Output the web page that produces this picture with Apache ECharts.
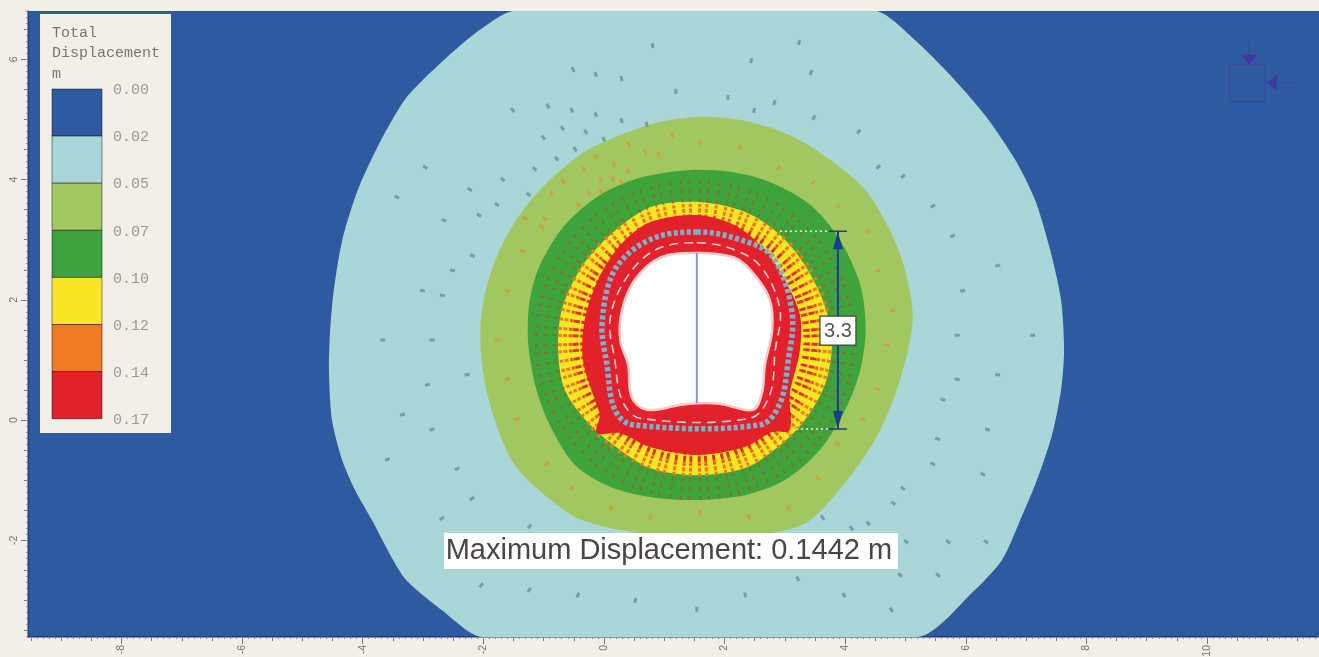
<!DOCTYPE html>
<html>
<head>
<meta charset="utf-8">
<script src="https://cdn.jsdelivr.net/npm/echarts@6/dist/echarts.min.js"></script>
<style>
html,body{margin:0;padding:0;background:#f2efe6;overflow:hidden}
#chart{width:1319px;height:657px;filter:blur(0.75px)}
</style>
</head>
<body>
<div id="chart"></div>
<script>
// ---- Legend ----
const legendTitle = ['Total', 'Displacement', 'm'];
const legendValues = ['0.00', '0.02', '0.05', '0.07', '0.10', '0.12', '0.14', '0.17'];
const legendColors = ['#2f5a9f', '#a9d6d6', '#a3c760', '#3fa33c', '#f8e523', '#ee7a22', '#e2212c'];

// ---- Axes ----
const xTickLabels = [-8, -6, -4, -2, 0, 2, 4, 6, 8, 10];
const yTickLabels = [-2, 0, 2, 4, 6];

// ---- Displacement contour boundaries (x, y in metres) ----
const contour002 = [[-1.48,6.81],[-2.06,6.49],[-2.60,6.04],[-3.27,5.37],[-3.71,4.63],[-4.08,3.83],[-4.34,2.99],[-4.48,2.16],[-4.54,1.50],[-4.56,0.83],[-4.51,0],[-4.34,-0.67],[-4.13,-1.16],[-3.85,-1.66],[-3.32,-2.61],[-2.69,-3.16],[-2.02,-3.61],[5.21,-3.61],[6.15,-2.83],[6.60,-2.33],[6.88,-1.72],[7.18,-1.00],[7.43,-0.25],[7.58,0.50],[7.63,1.16],[7.58,2.00],[7.40,2.83],[7.15,3.66],[6.82,4.33],[6.32,5.07],[5.74,5.74],[5.16,6.32],[4.49,6.81]];
const contour005 = [[1.67,5.04],[2.42,4.96],[3.08,4.74],[3.75,4.33],[4.33,3.83],[4.74,3.16],[4.99,2.50],[5.12,1.66],[4.91,0.67],[4.58,-0.17],[4.16,-0.83],[3.43,-1.66],[2.89,-1.86],[1.59,-2.00],[0.45,-1.86],[-0.38,-1.66],[-0.98,-1.25],[-1.48,-0.75],[-1.81,0],[-2.01,0.83],[-2.04,1.66],[-1.89,2.41],[-1.56,3.16],[-1.06,3.83],[-0.40,4.41],[0.27,4.74],[0.93,4.96]];
const contour007 = [[1.43,4.16],[2.09,4.13],[2.75,3.96],[3.42,3.58],[3.91,3.00],[4.25,2.25],[4.34,1.50],[4.25,0.83],[4.00,0.17],[3.58,-0.50],[3.00,-1.00],[2.34,-1.25],[1.51,-1.33],[0.76,-1.28],[0.10,-1.11],[-0.48,-0.75],[-0.90,-0.08],[-1.14,0.58],[-1.26,1.33],[-1.23,2.00],[-1.06,2.58],[-0.65,3.24],[-0.07,3.74],[0.60,4.03]];
const contour010 = [[1.54,3.63],[2.34,3.46],[2.92,3.08],[3.33,2.58],[3.66,1.91],[3.78,1.25],[3.66,0.58],[3.33,0],[2.92,-0.42],[2.34,-0.80],[1.51,-0.92],[0.76,-0.80],[0.27,-0.50],[-0.23,-0.08],[-0.65,0.50],[-0.76,1.16],[-0.70,1.83],[-0.40,2.50],[0.05,3.03],[0.76,3.54]];
const contour014 = [[1.54,3.41],[2.17,3.24],[2.67,2.83],[3.00,2.33],[3.25,1.75],[3.25,1.16],[3.08,0.42],[3.08,-0.17],[2.79,-0.20],[2.34,-0.45],[1.54,-0.58],[0.76,-0.45],[0.27,-0.22],[-0.12,-0.22],[-0.07,0.08],[-0.15,0.33],[-0.35,1.00],[-0.32,1.66],[-0.10,2.33],[0.27,2.91],[0.76,3.29]];
const tunnelOpening = [[1.54,2.78],[2.17,2.70],[2.50,2.41],[2.75,2.00],[2.79,1.50],[2.67,0.92],[2.62,0.45],[2.47,0.17],[1.92,0.27],[1.54,0.28],[1.26,0.25],[0.71,0.17],[0.46,0.38],[0.40,0.92],[0.27,1.33],[0.30,1.83],[0.51,2.33],[0.93,2.70]];
const tunnelLiner = [[1.54,3.13],[2.26,3.00],[2.80,2.71],[3.12,1.78],[3.05,0.95],[2.92,0.28],[2.59,-0.08],[0.48,-0.08],[0.18,0.17],[0.05,0.92],[-0.03,1.61],[0.18,2.50],[0.76,3.00]];
const yieldedBolts = [[1.54,2.95],[2.17,2.83],[2.62,2.53],[2.92,1.83],[2.84,1.16],[2.75,0.42],[2.42,0.03],[0.60,0.03],[0.30,0.33],[0.18,1.00],[0.10,1.66],[0.35,2.33],[0.85,2.83]];

// ---- Displacement vectors read from the field (x, y) ----
const outerVectors = [[0.80,6.27],[-0.53,5.87],[-0.15,5.79],[0.28,5.72],[1.19,5.51],[-0.95,5.26],[-1.54,5.19],[-0.55,5.19],[-0.15,5.12],[0.28,5.02],[0.70,4.96],[-0.71,4.89],[-0.32,4.83],[-1.03,4.73],[-0.02,4.71],[-0.50,4.54],[-0.81,4.38],[-1.18,4.21],[-3.00,4.23],[-1.71,4.03],[-3.47,3.73],[-2.26,3.86],[-1.81,3.61],[-2.11,3.43],[-2.69,3.34],[-1.28,3.78],[2.45,6.02],[3.25,6.32],[2.06,5.41],[2.84,5.32],[3.45,5.82],[2.50,5.19],[3.50,5.07],[4.25,4.83],[4.99,4.08],[5.49,3.58],[4.58,4.24],[5.82,3.08],[6.57,2.58],[5.99,2.16],[7.15,1.41],[5.90,1.41],[6.57,0.75],[5.90,0.67],[5.66,0.33],[6.40,-0.17],[5.57,-0.33],[5.49,-0.75],[4.99,-1.16],[4.83,-1.41],[4.41,-1.75],[6.32,-0.92],[-1.26,-1.80],[-2.06,-2.78],[-1.26,-2.86],[-0.45,-2.95],[0.51,-3.04],[3.23,-2.68],[2.35,-2.95],[1.54,-3.19],[4.00,-2.95],[4.79,-3.19],[4.94,-2.61],[5.57,-2.61],[6.37,-2.05],[5.74,-2.05],[5.04,-2.05],[4.13,-1.83],[3.65,-1.66],[-3.05,2.16],[-2.72,2.08],[-3.71,1.33],[-2.89,1.33],[-2.97,0.58],[-3.38,0.08],[-2.89,-0.17],[-3.63,-0.67],[-2.31,0.75],[-2.22,2.75],[-2.55,2.50],[-2.47,-0.83],[-2.22,-1.33],[-2.72,-1.66]];
const midVectors = [[1.13,4.78],[0.40,4.63],[0.68,4.49],[0.90,4.46],[-0.15,4.41],[0.15,4.29],[-0.36,4.21],[0.38,4.19],[-0.07,4.04],[-0.70,4.01],[0.13,4.04],[0.27,3.99],[-0.27,3.81],[-0.07,3.84],[-0.90,3.79],[-0.45,3.61],[-1.34,3.38],[-1.01,3.38],[1.59,4.66],[2.26,4.58],[2.92,4.24],[3.50,3.99],[3.91,3.58],[4.41,3.16],[4.58,2.50],[4.83,1.83],[4.74,1.25],[4.58,0.50],[4.33,0],[3.91,-0.42],[3.58,-1.00],[3.08,-1.50],[2.42,-1.66],[1.59,-1.58],[0.76,-1.66],[0.10,-1.50],[-0.56,-1.16],[-0.98,-0.75],[-1.48,0],[-1.64,0.67],[-1.81,1.33],[-1.64,2.16],[-1.39,2.83],[-1.06,3.24]];
const denseVectorAngles = [2,5,9,13,16,20,23,27,31,34,38,41,45,49,52,56,59,63,67,70,74,77,81,85,88,92,95,99,103,106,110,113,117,121,124,128,131,135,139,142,146,149,153,157,160,164,167,171,175,178,182,185,189,193,196,200,203,207,211,214,218,221,225,229,232,236,239,243,247,250,254,257,261,265,268,272,275,279,283,286,290,293,297,301,304,308,311,315,319,322,326,329,333,337,340,344,347,351,355,358];

// ---- Annotations ----
const measureLine = {x: 3.88, top: 3.14, bottom: -0.15, label: '3.3'};
const centreLine = [[1.54, 2.78], [1.54, 0.28]];
const maxLabel = {text: 'Maximum Displacement: 0.1442 m', x: 1.11, y: -2.18};
const ringCentre = [1.51, 1.33];

const xMin = -9.55, xMax = 11.857, yMin = -3.61, yMax = 6.805;

function range(a, b, step) {
  const out = [];
  const n = Math.round((b - a) / step);
  for (let i = 0; i <= n; i++) out.push(+(a + i * step).toFixed(2));
  return out;
}

const fills = [
  {pts: contour002, fill: legendColors[1], smooth: 0.25},
  {pts: contour005, fill: legendColors[2], smooth: 0.3},
  {pts: contour007, fill: legendColors[3], smooth: 0.3},
  {pts: contour010, fill: legendColors[4], smooth: 0.3},
];

function fillSeries(items, z) {
  return {
    type: 'custom', clip: true, z, silent: true,
    data: items.map((d, i) => [i]),
    renderItem(params, api) {
      const d = items[params.dataIndex];
      return {
        type: 'polygon',
        shape: {points: d.pts.map(p => api.coord(p)), smooth: d.smooth},
        style: {fill: d.fill, stroke: d.stroke || null, lineWidth: d.lineWidth || 0}
      };
    }
  };
}

function vectorSeries(points, color, len, z) {
  return {
    type: 'custom', clip: true, z, silent: true,
    data: points,
    renderItem(params, api) {
      const p = api.coord([api.value(0), api.value(1)]);
      const c = api.coord(ringCentre);
      const dx = p[0] - c[0], dy = p[1] - c[1];
      const r = Math.sqrt(dx * dx + dy * dy) || 1;
      return {
        type: 'line',
        shape: {x1: p[0], y1: p[1], x2: p[0] - dx / r * len, y2: p[1] - dy / r * len},
        style: {stroke: color, lineWidth: 3, opacity: 0.75}
      };
    }
  };
}

function hatchSeries(from, to, color, width, dash, z) {
  return {
    type: 'custom', clip: true, z, silent: true,
    data: denseVectorAngles.map(a => [a]),
    renderItem(params, api) {
      const a = api.value(0) * Math.PI / 180;
      const c = ringCentre;
      const p1 = api.coord([c[0] + from * Math.cos(a), c[1] + from * Math.sin(a)]);
      const p2 = api.coord([c[0] + to * Math.cos(a), c[1] + to * Math.sin(a)]);
      return {
        type: 'line',
        shape: {x1: p1[0], y1: p1[1], x2: p2[0], y2: p2[1]},
        style: {stroke: color, lineWidth: width, lineDash: dash}
      };
    }
  };
}

function ringSeries(pts, color, width, dash, z) {
  return {
    type: 'custom', clip: true, z, silent: true,
    data: [[0]],
    renderItem(params, api) {
      return {
        type: 'polygon',
        shape: {points: pts.map(p => api.coord(p)), smooth: 0.35},
        style: {fill: null, stroke: color, lineWidth: width, lineDash: dash}
      };
    }
  };
}

const annotationSeries = {
  type: 'custom', z: 20, silent: true,
  data: [[0]],
  renderItem(params, api) {
    const t = api.coord([measureLine.x, measureLine.top]);
    const b = api.coord([measureLine.x, measureLine.bottom]);
    const cA = api.coord(centreLine[0]), cB = api.coord(centreLine[1]);
    const lab = api.coord([measureLine.x, 1.48]);
    const mx = api.coord([maxLabel.x, maxLabel.y]);
    const dim = '#173f86';
    const square = [api.coord([10.38, 5.91]), api.coord([10.96, 5.91]), api.coord([10.96, 5.29]), api.coord([10.38, 5.29])];
    const arrowA = api.coord([10.70, 5.91]), arrowATail = api.coord([10.70, 6.37]);
    const arrowB = api.coord([10.96, 5.61]), arrowBTail = api.coord([11.54, 5.61]);
    const pointer = 'rgba(62,52,170,0.4)';
    return {
      type: 'group',
      children: [
        {type: 'line', shape: {x1: cA[0], y1: cA[1], x2: cB[0], y2: cB[1]}, style: {stroke: '#8f94c6', lineWidth: 2}},
        {type: 'line', shape: {x1: t[0] - 58, y1: t[1], x2: t[0] - 8, y2: t[1]}, style: {stroke: '#e9f3d8', lineWidth: 1.5, lineDash: [2, 3]}},
        {type: 'line', shape: {x1: b[0] - 42, y1: b[1], x2: b[0] - 8, y2: b[1]}, style: {stroke: '#e9f3d8', lineWidth: 1.5, lineDash: [2, 3]}},
        {type: 'line', shape: {x1: t[0], y1: t[1], x2: b[0], y2: b[1]}, style: {stroke: dim, lineWidth: 2}},
        {type: 'line', shape: {x1: t[0] - 9, y1: t[1], x2: t[0] + 9, y2: t[1]}, style: {stroke: dim, lineWidth: 1.5}},
        {type: 'line', shape: {x1: b[0] - 9, y1: b[1], x2: b[0] + 9, y2: b[1]}, style: {stroke: dim, lineWidth: 1.5}},
        {type: 'polygon', shape: {points: [[t[0], t[1] + 1], [t[0] - 5, t[1] + 18], [t[0] + 5, t[1] + 18]]}, style: {fill: dim}},
        {type: 'polygon', shape: {points: [[b[0], b[1] - 1], [b[0] - 5, b[1] - 18], [b[0] + 5, b[1] - 18]]}, style: {fill: dim}},
        {type: 'rect', shape: {x: lab[0] - 18, y: lab[1] - 15, width: 36, height: 29}, style: {fill: '#ffffff', stroke: '#3b4a3a', lineWidth: 1.2}},
        {type: 'text', style: {text: measureLine.label, x: lab[0], y: lab[1], fill: '#555555', font: '20px "Liberation Sans"', align: 'center', verticalAlign: 'middle'}},
        {type: 'rect', shape: {x: mx[0] - 227, y: mx[1] - 18, width: 454, height: 36}, style: {fill: '#ffffff'}},
        {type: 'text', style: {text: maxLabel.text, x: mx[0] - 2, y: mx[1], fill: '#4a4444', font: '29px "Liberation Sans"', align: 'center', verticalAlign: 'middle'}},
        {type: 'polygon', shape: {points: square}, style: {fill: null, stroke: pointer, lineWidth: 1.5}},
        {type: 'line', shape: {x1: arrowATail[0], y1: arrowATail[1], x2: arrowA[0], y2: arrowA[1]}, style: {stroke: pointer, lineWidth: 1}},
        {type: 'line', shape: {x1: arrowBTail[0], y1: arrowBTail[1], x2: arrowB[0], y2: arrowB[1]}, style: {stroke: pointer, lineWidth: 1}},
        {type: 'polygon', shape: {points: [[arrowA[0], arrowA[1]], [arrowA[0] - 8, arrowA[1] - 10], [arrowA[0] + 8, arrowA[1] - 10]]}, style: {fill: 'rgba(70,40,170,0.65)'}},
        {type: 'polygon', shape: {points: [[arrowB[0] + 2, arrowB[1]], [arrowB[0] + 12, arrowB[1] - 8], [arrowB[0] + 12, arrowB[1] + 8]]}, style: {fill: 'rgba(70,40,170,0.65)'}}
      ]
    };
  }
};

// legend frame is laid out in pixels, its content comes from the arrays
const legendX = 40, legendY = 14, swatchX = 52, swatchW = 50, swatchTop = 89, swatchH = 47.1;
const monoFont = '15px "Liberation Mono"';
const legendGraphic = [
  {type: 'rect', z: 100, shape: {x: legendX, y: legendY, width: 131, height: 419}, style: {fill: '#f2efe6'}},
  ...legendTitle.map((t, i) => ({
    type: 'text', z: 101, x: swatchX, y: [33, 53, 74][i],
    style: {text: t, fill: '#77776f', font: monoFont, verticalAlign: 'middle'}
  })),
  ...legendColors.map((c, i) => ({
    type: 'rect', z: 101,
    shape: {x: swatchX, y: swatchTop + i * swatchH, width: swatchW, height: swatchH},
    style: {fill: c, stroke: 'rgba(0,0,30,0.45)', lineWidth: 1}
  })),
  ...legendValues.map((t, i) => ({
    type: 'text', z: 101, x: 113, y: swatchTop + 1 + i * 47.2,
    style: {text: t, fill: '#9a9a92', font: monoFont, verticalAlign: 'middle'}
  }))
];

function axisBase(extra) {
  return Object.assign({
    type: 'value', splitLine: {show: false}, axisLine: {show: false, onZero: false},
    axisLabel: {show: false}, axisTick: {show: false}
  }, extra);
}

const axisLabelStyle = {show: true, rotate: 90, fontSize: 10.5, color: '#73736c', fontFamily: 'Liberation Sans'};

function axisSet(min, max, pos, ticks) {
  const line = {show: true, onZero: false, lineStyle: {color: 'rgba(12,28,110,0.6)', width: 1.5}};
  return [
    axisBase({min, max, position: pos, axisLine: line,
      axisTick: {show: true, length: 7, lineStyle: {color: '#77776f', width: 1}, customValues: ticks},
      axisLabel: Object.assign({}, axisLabelStyle, {customValues: ticks, margin: 8})}),
    axisBase({min, max, position: pos,
      axisTick: {show: true, length: 4, lineStyle: {color: '#77776f', width: 1}, customValues: range(Math.ceil(min * 2) / 2, Math.floor(max * 2) / 2, 0.5)}}),
    axisBase({min, max, position: pos,
      axisTick: {show: true, length: 2, lineStyle: {color: '#8a8a82', width: 1}, customValues: range(Math.ceil(min * 10) / 10, Math.floor(max * 10) / 10, 0.1)}})
  ];
}

const option = {
  animation: false,
  backgroundColor: '#f2efe6',
  grid: {left: 28, right: 0, top: 11, bottom: 20, show: true, backgroundColor: legendColors[0], borderWidth: 0, outerBoundsMode: 'none'},
  xAxis: axisSet(xMin, xMax, 'bottom', xTickLabels),
  yAxis: axisSet(yMin, yMax, 'left', yTickLabels),
  graphic: legendGraphic,
  series: [
    fillSeries(fills, 2),
    vectorSeries(outerVectors, '#5f8c98', 5, 3),
    vectorSeries(midVectors, '#d9962c', 5, 3),
    hatchSeries(2.3, 2.68, 'rgba(165,85,40,0.7)', 1.8, [4, 5], 4),
    hatchSeries(1.85, 2.27, '#ef7a1e', 3, [4, 1.5], 5),
    fillSeries([{pts: contour014, fill: legendColors[6], smooth: 0.3}], 6),
    hatchSeries(1.8, 2.08, 'rgba(224,34,34,0.9)', 2.6, [6, 2], 7),
    fillSeries([{pts: tunnelOpening, fill: '#ffffff', smooth: 0.35, stroke: '#f7c9c9', lineWidth: 2.5}], 9),
    ringSeries(yieldedBolts, '#f6cfd0', 1.6, [9, 6], 10),
    ringSeries(tunnelLiner, '#7fb0c8', 5.5, [4, 2.5], 11),
    annotationSeries
  ]
};

const chart = echarts.init(document.getElementById('chart'), null, {renderer: 'canvas', width: 1319, height: 657});
chart.setOption(option);
</script>
</body>
</html>
